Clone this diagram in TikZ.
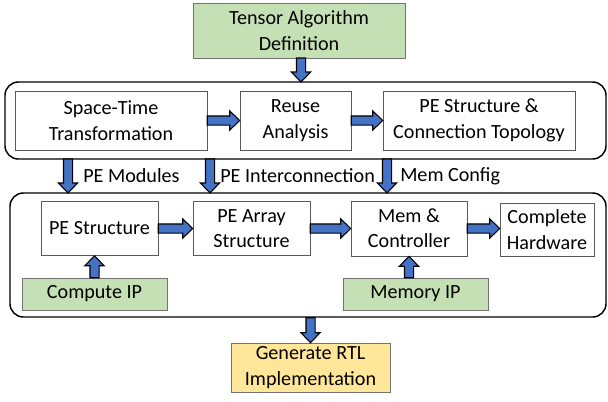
\documentclass[tikz,border=0pt]{standalone}
\usepackage{fontspec}
\setmainfont{Carlito}
\usepackage{tikz}
\usetikzlibrary{calc}
\definecolor{ipgreen}{HTML}{C5E0B4}
\definecolor{rtlgold}{HTML}{FFE699}
\definecolor{flowblue}{HTML}{4472C4}
\newdimen\pxu
\pxu=0.75pt
\def\shaftw{3.4pt}
\def\headw{7.2pt}
\def\headlen{7.5pt}
\pgfdeclarelayer{nodelayer}
\pgfdeclarelayer{edgelayer}
\pgfsetlayers{edgelayer,nodelayer,main}
\tikzset{stage/.style 2 args={draw=black!65, fill=white, align=center, inner sep=0pt,
minimum width=#1\pxu, minimum height=#2\pxu}}
\tikzset{ipbox/.style 2 args={stage={#1}{#2}, draw=black!55, fill=ipgreen}}
\tikzset{rtlbox/.style 2 args={stage={#1}{#2}, draw=black!55, fill=rtlgold}}
\tikzset{panel/.style 2 args={draw=black, line width=1.1pt, rounded corners=10pt, inner sep=0pt,
minimum width=#1\pxu, minimum height=#2\pxu}}
\tikzset{tag/.style={anchor=west, inner sep=0pt}}
\tikzset{flowarrow/.style={fill=flowblue, draw=black, line width=0.8pt, line join=miter}}
% block arrow from #1 to #2
\newcommand{\flow}[2]{%
\coordinate (fh) at ($(#2)!\headlen!(#1)$);
\filldraw [flowarrow] ($(#1)!\shaftw!90:(#2)$) -- ($(fh)!\shaftw!90:(#2)$) -- ($(fh)!\headw!90:(#2)$)
 -- (#2) -- ($(fh)!\headw!-90:(#2)$) -- ($(fh)!\shaftw!-90:(#2)$) -- ($(#1)!\shaftw!-90:(#2)$) -- cycle;}

\begin{document}
\begin{tikzpicture}[x=0.75pt, y=-0.75pt, font=\fontsize{15.1}{19}\selectfont]
        \useasboundingbox (0, 0) rectangle (608, 401);
        \begin{pgfonlayer}{nodelayer}
            \node [ipbox={212}{55}] (tad) at (299, 30.5) {Tensor Algorithm\\Definition};
            \node [panel={601}{77}] (top) at (305.5, 120.5) {};
            \node [stage={192}{59}] (st) at (111, 120.5) {Space-Time\\Transformation};
            \node [stage={111}{59}] (ra) at (295.5, 120.5) {Reuse\\Analysis};
            \node [stage={192}{59}] (pc) at (479, 120.5) {PE Structure \&\\Connection Topology};
            \node [tag] (l1) at (83, 176) {PE Modules};
            \node [tag] (l2) at (220, 176) {PE Interconnection};
            \node [tag] (l3) at (400, 176) {Mem Config};
            \node [panel={596}{124}] (bot) at (308, 255) {};
            \node [stage={117}{54}] (pes) at (99.5, 228.5) {PE Structure};
            \node [stage={117}{54}] (pea) at (251.5, 228.5) {PE Array\\Structure};
            \node [stage={116}{55}] (mc) at (409, 228.5) {Mem \&\\Controller};
            \node [stage={94}{53}] (ch) at (547, 229.5) {Complete\\Hardware};
            \node [ipbox={145}{32}] (cip) at (94.5, 294) {Compute IP};
            \node [ipbox={145}{32}] (mip) at (415.5, 294) {Memory IP};
            \node [rtlbox={159}{49}] (rtl) at (310.5, 367.5) {Generate RTL\\Implementation};
        \end{pgfonlayer}
        \coordinate (a0) at (301, 58);
        \coordinate (a0e) at (301, 82);
        \coordinate (d1) at (68, 159);
        \coordinate (d1e) at (68, 193);
        \coordinate (d2) at (210, 159);
        \coordinate (d2e) at (210, 193);
        \coordinate (d3) at (387, 159);
        \coordinate (d3e) at (387, 193);
        \coordinate (u1e) at (cip.north |- pes.south);
        \coordinate (u2) at (mc.south |- mip.north);
        \coordinate (hw) at (mc.east -| ch.west);
        \coordinate (b0) at (rtl.north |- bot.south);
        \flow{a0}{a0e}
        \flow{st.east}{ra.west}
        \flow{ra.east}{pc.west}
        \flow{d1}{d1e}
        \flow{d2}{d2e}
        \flow{d3}{d3e}
        \flow{pes.east}{pea.west}
        \flow{pea.east}{mc.west}
        \flow{mc.east}{hw}
        \flow{cip.north}{u1e}
        \flow{u2}{mc.south}
        \flow{b0}{rtl.north}
    \end{tikzpicture}
\end{document}
